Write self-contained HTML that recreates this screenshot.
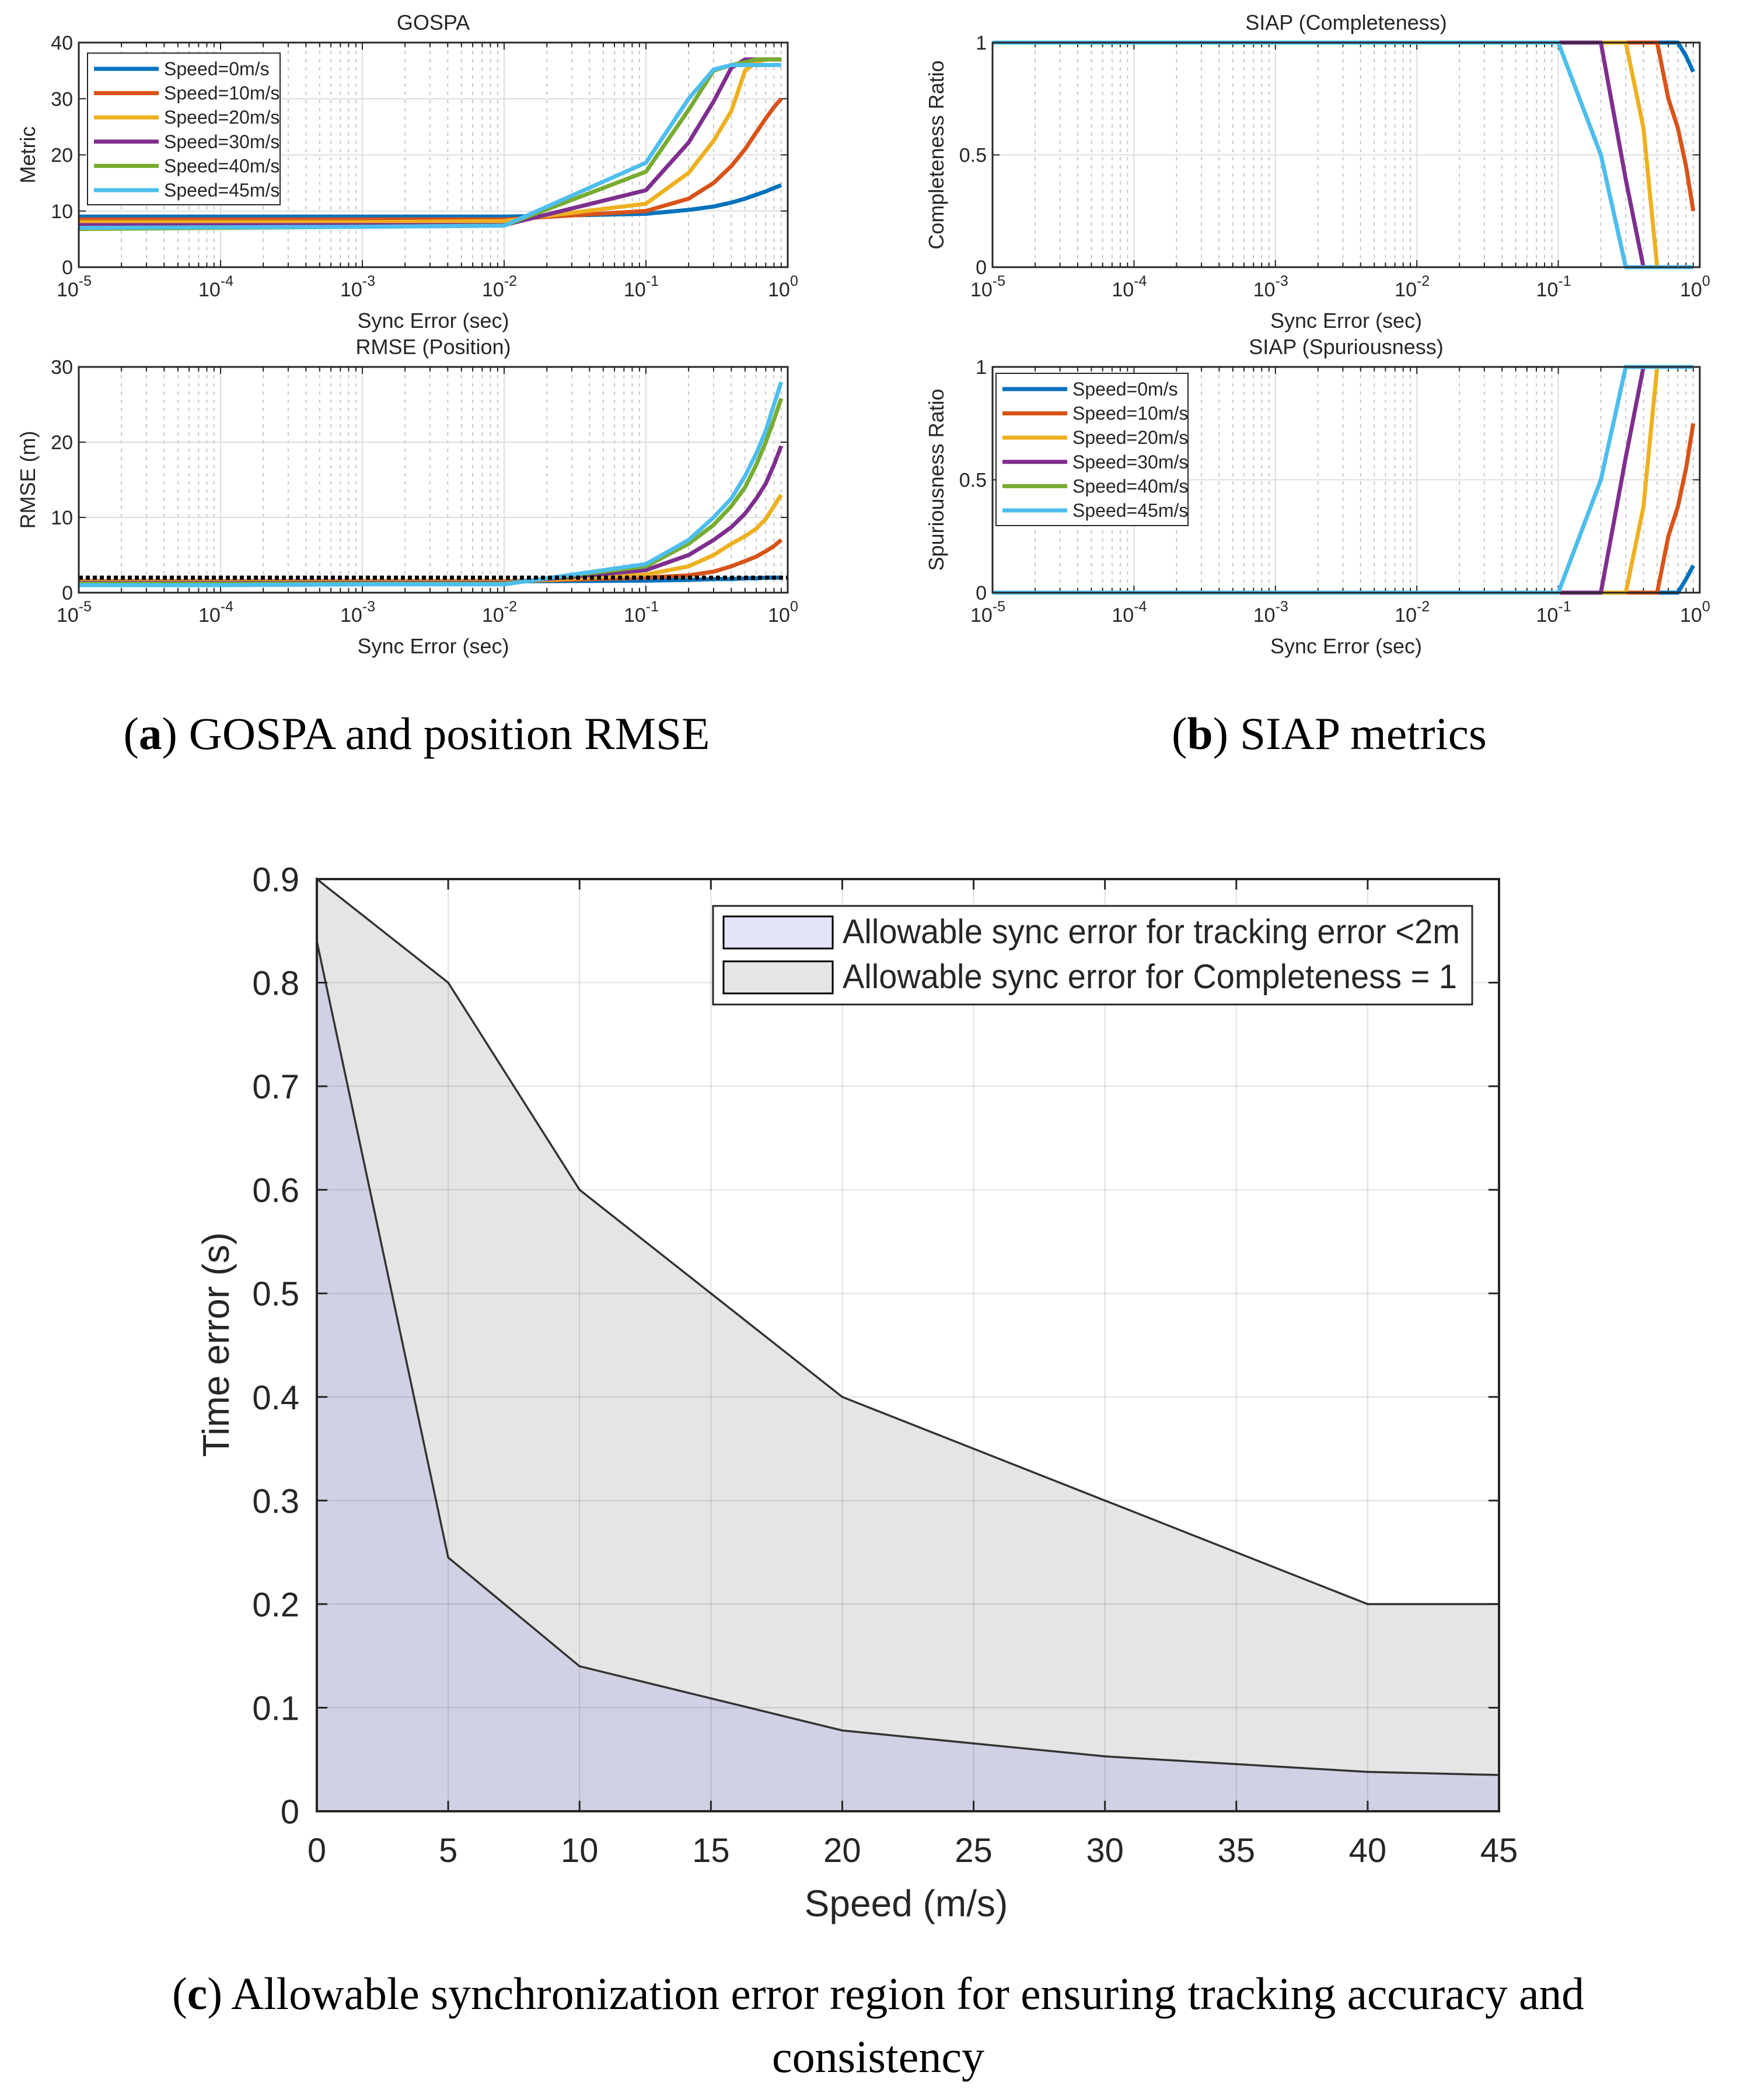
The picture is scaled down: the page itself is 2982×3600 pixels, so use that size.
<!DOCTYPE html>
<html><head><meta charset="utf-8"><style>
html,body{margin:0;padding:0;background:#fff;}
svg{display:block;}
text{font-family:"Liberation Sans",sans-serif;fill:#262626;}
.cap{font-family:"Liberation Serif",serif;fill:#000;}
</style></head><body>
<svg id="fig" width="2982" height="3600" viewBox="0 0 2982 3600" xmlns="http://www.w3.org/2000/svg">
<rect width="2982" height="3600" fill="#fff"/>
<g id="g"></g>
<text class="cap" x="714" y="1284" font-size="78" text-anchor="middle" textLength="1005" lengthAdjust="spacingAndGlyphs">(<tspan font-weight="bold">a</tspan>) GOSPA and position RMSE</text>
<text class="cap" x="2278" y="1284" font-size="78" text-anchor="middle" textLength="540" lengthAdjust="spacingAndGlyphs">(<tspan font-weight="bold">b</tspan>) SIAP metrics</text>
<text class="cap" x="1505" y="3444" font-size="78" text-anchor="middle" textLength="2420" lengthAdjust="spacingAndGlyphs">(<tspan font-weight="bold">c</tspan>) Allowable synchronization error region for ensuring tracking accuracy and</text>
<text class="cap" x="1505" y="3552" font-size="78" text-anchor="middle">consistency</text>
</svg>
<script>
// ---------- data ----------
const syncErr = [1e-5,1e-4,1e-3,1e-2,0.1,0.2,0.3,0.4,0.5,0.6,0.7,0.8,0.9];
const speedNames = ["Speed=0m/s","Speed=10m/s","Speed=20m/s","Speed=30m/s","Speed=40m/s","Speed=45m/s"];
const colors = ["#0072BD","#D95319","#EDB120","#7E2F8E","#77AC30","#4DBEEE"];
const gospa0  = [9,9,9,9,9.5,10.2,10.8,11.5,12.2,12.9,13.5,14.1,14.6];
const gospa10 = [8.5,8.5,8.5,8.5,10,12.2,15,18,21,24,26.5,28.5,30];
const gospa20 = [8,8,8,8.2,11.3,16.8,22.5,27.8,35,36.5,37,37,37];
const gospa30 = [7.5,7.5,7.5,7.5,13.7,22.2,29.5,35.5,37,37,37,37,37];
const gospa40 = [6.8,7,7.2,7.4,17,28,35,36,36.5,37,37,37,37];
const gospa45 = [7,7.1,7.2,7.4,18.6,30,35.2,36,36,36,36,36,36];
const rmse0  = [1.5,1.5,1.5,1.5,1.6,1.7,1.8,1.8,1.9,1.9,2,2,2];
const rmse10 = [1.5,1.5,1.5,1.5,2.0,2.3,2.8,3.5,4.2,4.8,5.5,6.2,7];
const rmse20 = [1.4,1.4,1.4,1.4,2.4,3.5,5,6.5,7.5,8.5,9.8,11.5,13];
const rmse30 = [1.3,1.3,1.3,1.3,3.0,5,7,8.7,10.5,12.5,14.5,17,19.5];
const rmse40 = [1.2,1.2,1.2,1.2,3.5,6.5,9,11.5,14,17,20,23,25.8];
const rmse45 = [1.0,1.0,1.1,1.1,3.8,7,10,12.5,15.5,18.5,21.5,25,28];
const rmseThreshold = 2;
const comp0  = [1,1,1,1,1,1,1,1,1,1,1,0.94,0.87];
const comp10 = [1,1,1,1,1,1,1,1,1,0.75,0.62,0.45,0.25];
const comp20 = [1,1,1,1,1,1,1,0.62,0,0,0,0,0];
const comp30 = [1,1,1,1,1,1,0.39,0,0,0,0,0,0];
const comp40 = [1,1,1,1,1,0.5,0,0,0,0,0,0,0];
const comp45 = [1,1,1,1,1,0.5,0,0,0,0,0,0,0];
const spur0  = [0,0,0,0,0,0,0,0,0,0,0,0.06,0.12];
const spur10 = [0,0,0,0,0,0,0,0,0,0.25,0.38,0.55,0.75];
const spur20 = [0,0,0,0,0,0,0,0.38,1,1,1,1,1];
const spur30 = [0,0,0,0,0,0,0.6,1,1,1,1,1,1];
const spur40 = [0,0,0,0,0,0.5,1,1,1,1,1,1,1];
const spur45 = [0,0,0,0,0,0.5,1,1,1,1,1,1,1];
const speeds = [0,5,10,20,30,40,45];
const compLimit  = [0.9,0.8,0.6,0.4,0.3,0.2,0.2];
const trackLimit = [0.84,0.245,0.14,0.078,0.053,0.038,0.035];
const speedTicks = [0,5,10,15,20,25,30,35,40,45];
const timeTicks = [0,0.1,0.2,0.3,0.4,0.5,0.6,0.7,0.8,0.9];

// ---------- helpers ----------
const NS="http://www.w3.org/2000/svg";
const root=document.getElementById('g');
function mk(tag,attrs,parent){const e=document.createElementNS(NS,tag);for(const k in attrs)e.setAttribute(k,attrs[k]);(parent||root).appendChild(e);return e;}
function txt(s,attrs,parent){const e=mk('text',attrs,parent);e.textContent=s;return e;}

function logPanel(P){
  const g=mk('g',{});
  
  
  const X=v=>P.x0+(Math.log10(v)+5)/5*(P.x1-P.x0);
  const Y=v=>P.y1-(v-P.ymin)/(P.ymax-P.ymin)*(P.y1-P.y0);
  mk('rect',{x:P.x0,y:P.y0,width:P.x1-P.x0,height:P.y1-P.y0,fill:'#fff'},g);
  for(let d=-5;d<0;d++)for(let m=2;m<=9;m++){const xv=X(m*Math.pow(10,d));
    mk('line',{x1:xv,x2:xv,y1:P.y0,y2:P.y1,stroke:'#c8c8c8','stroke-width':2,'stroke-dasharray':'6 8'},g);
    mk('line',{x1:xv,x2:xv,y1:P.y1,y2:P.y1-8,stroke:'#262626','stroke-width':2},g);
    mk('line',{x1:xv,x2:xv,y1:P.y0,y2:P.y0+8,stroke:'#262626','stroke-width':2},g);}
  for(let d=-4;d<0;d++){const xv=X(Math.pow(10,d));mk('line',{x1:xv,x2:xv,y1:P.y0,y2:P.y1,stroke:'#dedede','stroke-width':2},g);}
  P.yticks.forEach(t=>{const yv=Y(t);
    if(t>P.ymin&&t<P.ymax)mk('line',{x1:P.x0,x2:P.x1,y1:yv,y2:yv,stroke:'#dedede','stroke-width':2},g);
    mk('line',{x1:P.x0,x2:P.x0+12,y1:yv,y2:yv,stroke:'#262626','stroke-width':2},g);
    mk('line',{x1:P.x1,x2:P.x1-12,y1:yv,y2:yv,stroke:'#262626','stroke-width':2},g);
    const t1=txt(String(t),{x:P.x0-10,y:yv+12,'font-size':34,'text-anchor':'end'},g);
    
    });
  for(let d=-5;d<=0;d++){const xv=X(Math.pow(10,d));
    mk('line',{x1:xv,x2:xv,y1:P.y1,y2:P.y1-12,stroke:'#262626','stroke-width':2},g);
    mk('line',{x1:xv,x2:xv,y1:P.y0,y2:P.y0+12,stroke:'#262626','stroke-width':2},g);
    const t=txt('',{x:xv-8,y:P.y1+50,'font-size':34,'text-anchor':'middle'},g);
    
    
    const a=document.createElementNS(NS,'tspan');a.textContent='10';t.appendChild(a);
    const b=document.createElementNS(NS,'tspan');b.setAttribute('dy','-18');b.setAttribute('font-size','25');b.textContent=String(d);t.appendChild(b);}
  P.series.forEach((s,i)=>{
    const pts=syncErr.map((v,j)=>X(v)+','+Y(s[j])).join(' ');
    const pl=mk('polyline',{points:pts,fill:'none',stroke:colors[i],'stroke-width':7,'stroke-linejoin':'round'},g);
    
    
  });
  if(P.threshold!==undefined){
    const yv=Y(P.threshold);
    const th=mk('line',{x1:P.x0,x2:P.x1,y1:yv,y2:yv,stroke:'#000','stroke-width':7,'stroke-dasharray':'7 5'},g);
    
    
  }
  mk('rect',{x:P.x0,y:P.y0,width:P.x1-P.x0,height:P.y1-P.y0,fill:'none',stroke:'#262626','stroke-width':3},g);
  const ti=txt(P.title,{x:(P.x0+P.x1)/2,y:P.y0-22,'font-size':36,'text-anchor':'middle'},g);
  
  
  const xl=txt('Sync Error (sec)',{x:(P.x0+P.x1)/2,y:P.y1+104,'font-size':36,'text-anchor':'middle'},g);
  
  
  const cy=(P.y0+P.y1)/2;
  const yl=txt(P.ylabel,{x:P.ylx,y:cy,'font-size':36,'text-anchor':'middle',transform:'rotate(-90 '+P.ylx+' '+cy+')'},g);
  
  
  if(P.legend){const L=P.legend;
    const lg=mk('g',{},g);
    
    
    mk('rect',{x:L.x,y:L.y,width:L.w,height:L.h,fill:'#fff',stroke:'#262626','stroke-width':2},lg);
    speedNames.forEach((n,i)=>{const yy=L.y+27+i*41.6;
      const e=mk('g',{},lg);
      
      
      mk('line',{x1:L.x+11,x2:L.x+122,y1:yy,y2:yy,stroke:colors[i],'stroke-width':7},e);
      txt(n,{x:L.x+131,y:yy+11,'font-size':32},e);});
  }
}

logPanel({name:'gospa-panel',title:'GOSPA',ylabel:'Metric',ylx:60,x0:135,x1:1350,y0:73,y1:458,ymin:0,ymax:40,yticks:[0,10,20,30,40],
  series:[gospa0,gospa10,gospa20,gospa30,gospa40,gospa45],legend:{x:150,y:91,w:330,h:260}});
logPanel({name:'rmse-panel',title:'RMSE (Position)',ylabel:'RMSE (m)',ylx:60,x0:135,x1:1350,y0:629,y1:1016,ymin:0,ymax:30,yticks:[0,10,20,30],
  series:[rmse0,rmse10,rmse20,rmse30,rmse40,rmse45],threshold:rmseThreshold});
logPanel({name:'completeness-panel',title:'SIAP (Completeness)',ylabel:'Completeness Ratio',ylx:1617,x0:1701,x1:2913,y0:73,y1:458,ymin:0,ymax:1,yticks:[0,0.5,1],
  series:[comp0,comp10,comp20,comp30,comp40,comp45]});
logPanel({name:'spuriousness-panel',title:'SIAP (Spuriousness)',ylabel:'Spuriousness Ratio',ylx:1617,x0:1701,x1:2913,y0:629,y1:1016,ymin:0,ymax:1,yticks:[0,0.5,1],
  series:[spur0,spur10,spur20,spur30,spur40,spur45],legend:{x:1707,y:640,w:329,h:261}});

// ---------- bottom chart ----------
(function(){
  const x0=543,x1=2569,y0=1507,y1=3105;
  const X=v=>x0+v/45*(x1-x0);
  const Y=v=>y1-v/0.9*(y1-y0);
  const g=mk('g',{});
  
  
  mk('rect',{x:x0,y:y0,width:x1-x0,height:y1-y0,fill:'#fff'},g);
  const up=speeds.map((s,i)=>X(s)+','+Y(compLimit[i])).join(' ');
  const lo=speeds.map((s,i)=>X(s)+','+Y(trackLimit[i])).join(' ');
  const a1=mk('polygon',{points:X(0)+','+Y(0)+' '+up+' '+X(45)+','+Y(0),fill:'#e5e5e5',stroke:'#333','stroke-width':3.5},g);
  
  
  const a2=mk('polygon',{points:X(0)+','+Y(0)+' '+lo+' '+X(45)+','+Y(0),fill:'#d1d1e5',stroke:'#333','stroke-width':3.5},g);
  
  
  speedTicks.forEach(t=>{const xv=X(t);
    mk('line',{x1:xv,x2:xv,y1:y0,y2:y1,stroke:'#000','stroke-opacity':0.12,'stroke-width':2},g);
    mk('line',{x1:xv,x2:xv,y1:y1,y2:y1-18,stroke:'#262626','stroke-width':3},g);
    mk('line',{x1:xv,x2:xv,y1:y0,y2:y0+18,stroke:'#262626','stroke-width':3},g);
    const tl=txt(String(t),{x:xv,y:y1+87,'font-size':58,'text-anchor':'middle'},g);
    
    });
  timeTicks.forEach(t=>{const yv=Y(t);
    mk('line',{x1:x0,x2:x1,y1:yv,y2:yv,stroke:'#000','stroke-opacity':0.12,'stroke-width':2},g);
    mk('line',{x1:x0,x2:x0+18,y1:yv,y2:yv,stroke:'#262626','stroke-width':3},g);
    mk('line',{x1:x1,x2:x1-18,y1:yv,y2:yv,stroke:'#262626','stroke-width':3},g);
    const tl=txt(String(t),{x:x0-30,y:yv+21,'font-size':58,'text-anchor':'end'},g);
    
    });
  mk('rect',{x:x0,y:y0,width:x1-x0,height:y1-y0,fill:'none',stroke:'#262626','stroke-width':4},g);
  const xl=txt('Speed (m/s)',{x:1553,y:3285,'font-size':64,'text-anchor':'middle'},g);
  
  
  const yl=txt('Time error (s)',{x:392,y:2305,'font-size':64,'text-anchor':'middle',transform:'rotate(-90 392 2305)'},g);
  
  
  const lg=mk('g',{},g);
  
  
  mk('rect',{x:1222,y:1553,width:1301,height:169,fill:'#fff',stroke:'#262626','stroke-width':3},lg);
  const e1=mk('g',{},lg);
  
  
  mk('rect',{x:1240,y:1571,width:187,height:55,fill:'#e4e4fa',stroke:'#000','stroke-width':3},e1);
  txt('Allowable sync error for tracking error <2m',{x:1444,y:1617,'font-size':58,textLength:1058,lengthAdjust:'spacingAndGlyphs'},e1);
  const e2=mk('g',{},lg);
  
  
  mk('rect',{x:1240,y:1648,width:187,height:55,fill:'#e5e5e5',stroke:'#000','stroke-width':3},e2);
  txt('Allowable sync error for Completeness = 1',{x:1444,y:1694,'font-size':58,textLength:1053,lengthAdjust:'spacingAndGlyphs'},e2);
})();
</script>
</body></html>
